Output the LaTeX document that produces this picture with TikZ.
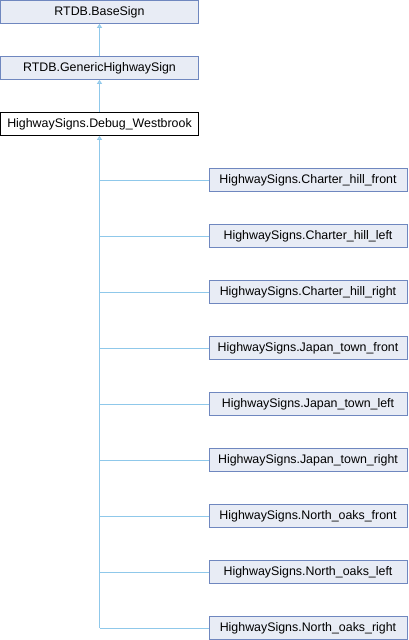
\documentclass[tikz,border=0pt]{standalone}
\usepackage{fontspec}
\setmainfont{Liberation Sans}
\usetikzlibrary{arrows.meta}
\definecolor{boxfill}{HTML}{E8ECF5}
\definecolor{boxdraw}{HTML}{6F87BF}
\definecolor{edgecol}{HTML}{8FC8EA}
\tikzset{
  cls/.style={draw=boxdraw, fill=boxfill, line width=0.8pt, minimum width=198pt, minimum height=23pt, inner sep=0pt, font=\fontsize{12.4pt}{14pt}\selectfont},
  curcls/.style={cls, draw=black, fill=white},
  inh/.style={draw=edgecol, line width=0.8pt, -{Triangle[length=4pt, width=5pt, fill=edgecol!70!white]}},
  edge/.style={draw=edgecol, line width=0.8pt}
}
\begin{document}
\begin{tikzpicture}[x=1pt,y=-1pt]
\useasboundingbox (0,0) rectangle (408,640);
\node[cls] (base) at (99.5,12) {RTDB.BaseSign};
\node[cls] (gen) at (99.5,68) {RTDB.GenericHighwaySign};
\node[curcls] (dbg) at (99.5,124) {HighwaySigns.Debug\_Westbrook};
\foreach \n/\t [count=\i from 0] in {c1/Charter\_hill\_front, c2/Charter\_hill\_left, c3/Charter\_hill\_right, c4/Japan\_town\_front, c5/Japan\_town\_left, c6/Japan\_town\_right, c7/North\_oaks\_front, c8/North\_oaks\_left, c9/North\_oaks\_right}{
  \node[cls] (\n) at (308,180+56*\i) {HighwaySigns.\t};
}
\draw[inh] (gen) -- (base);
\draw[inh] (dbg) -- (gen);
\coordinate (bot) at (99.5,628);
\draw[inh] (bot) -- (dbg);
\foreach \n in {c1,c2,c3,c4,c5,c6,c7,c8,c9}{
  \draw[edge] (\n.west) -- (\n.west -| dbg.south);
}
\end{tikzpicture}
\end{document}
